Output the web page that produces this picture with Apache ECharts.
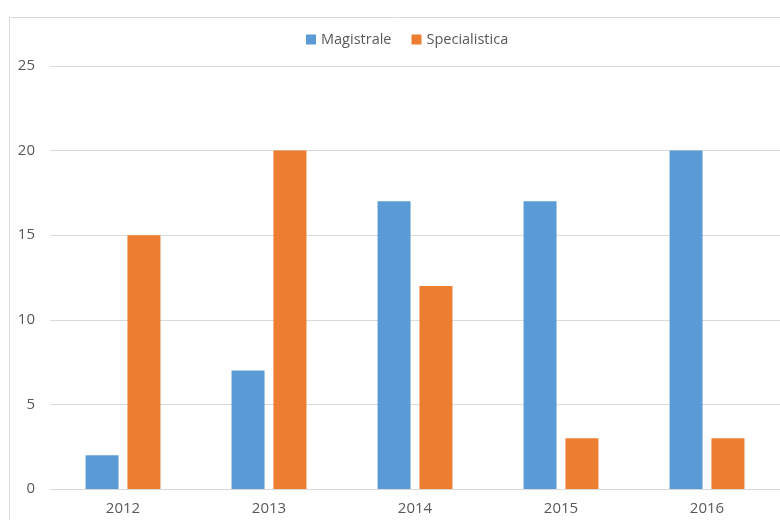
<!DOCTYPE html>
<html><head><meta charset="utf-8">
<script src="https://cdn.jsdelivr.net/npm/echarts@6/dist/echarts.min.js"></script>
<style>html,body{margin:0;padding:0;background:#fff}#c{width:780px;height:520px}</style>
</head><body><div id="c"></div>
<script>
const categories = ['2012', '2013', '2014', '2015', '2016'];
const magistrale = [2, 7, 17, 17, 20];
const specialistica = [15, 20, 12, 3, 3];
const yTicks = { min: 0, max: 25, interval: 5 };

const chart = echarts.init(document.getElementById('c'));
const font = 'Open Sans, Liberation Sans, sans-serif';
chart.setOption({
  animation: false,
  graphic: [{
    type: 'rect', silent: true,
    shape: { x: 9.5, y: 17.5, width: 800, height: 600 },
    style: { fill: 'none', stroke: '#d9d9d9', lineWidth: 1 }
  }],
  legend: {
    top: 27, left: 301, itemWidth: 10, itemHeight: 10, itemGap: 20,
    icon: 'rect',
    textStyle: { color: '#595959', fontSize: 14.5, fontFamily: font },
    data: ['Magistrale', 'Specialistica']
  },
  grid: { left: 50, right: -1, top: 66, bottom: 31, containLabel: false },
  xAxis: {
    type: 'category', data: categories,
    axisLine: { lineStyle: { color: '#d9d9d9', width: 1 } },
    axisTick: { show: false },
    axisLabel: { color: '#595959', fontSize: 15, fontFamily: font, margin: 12 }
  },
  yAxis: {
    type: 'value', min: yTicks.min, max: yTicks.max, interval: yTicks.interval,
    axisLine: { show: false }, axisTick: { show: false },
    splitLine: { lineStyle: { color: '#d9d9d9', width: 1 } },
    axisLabel: { color: '#595959', fontSize: 15, fontFamily: font, margin: 15 }
  },
  series: [
    { name: 'Magistrale', type: 'bar', data: magistrale, barWidth: 33, barGap: '27%',
      itemStyle: { color: '#5b9bd5' } },
    { name: 'Specialistica', type: 'bar', data: specialistica, barWidth: 33, barGap: '27%',
      itemStyle: { color: '#ed7d31' } }
  ]
});
</script></body></html>
